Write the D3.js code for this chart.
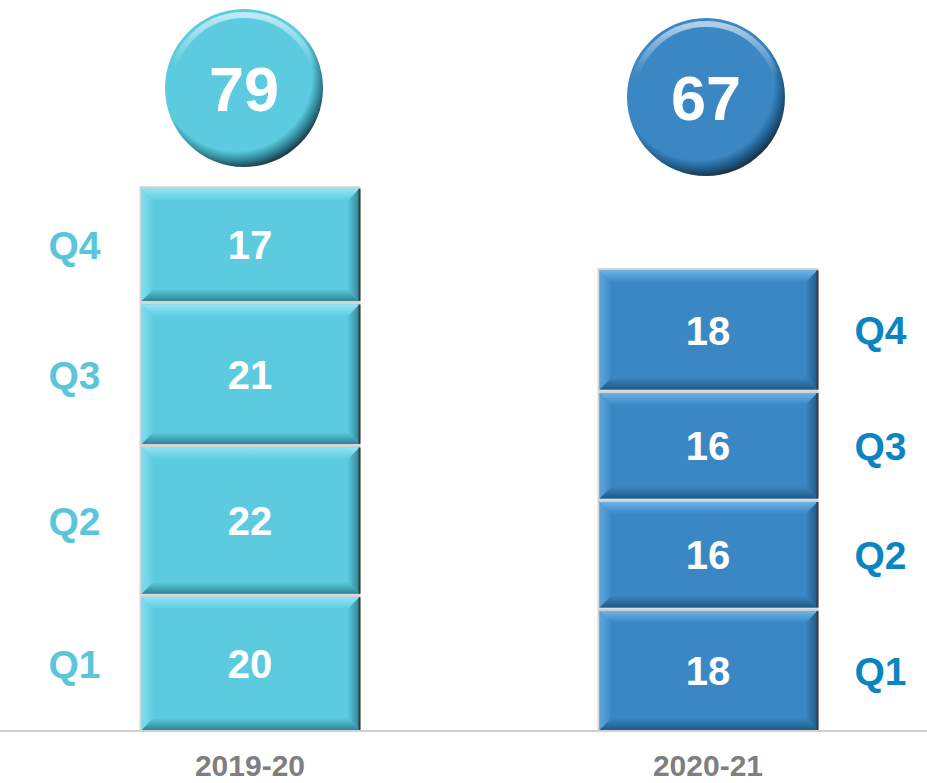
<!DOCTYPE html>
<html>
<head>
<meta charset="utf-8">
<script src="https://cdn.jsdelivr.net/npm/d3@7"></script>
<style>
  body { margin: 0; background: #fff; }
  svg { display: block; font-family: "Liberation Sans", Arial, sans-serif; }
</style>
</head>
<body>
<svg id="chart" width="927" height="783"></svg>
<script>
// data
var years = ['2019-20', '2020-21']
var quarters = ['Q1', 'Q2', 'Q3', 'Q4']
var values2019 = [20, 22, 21, 17]
var values2020 = [18, 16, 16, 18]
var totals = [79, 67]

var colors = { base: ['#5ccbe0', '#3a87c4'], light: ['#8fe6f6', '#6cb4ea'], dark: ['#2f8596', '#1f5a88'], label: ['#5bc5da', '#0b84c2'] }

var svg = d3.select('#chart')
var defs = svg.append('defs')

var x = d3.scalePoint().domain(years).range([250, 708])
var y = d3.scaleLinear().domain([0, 79]).range([731, 193])
var barW = 221

// stack each year
var series = [values2019, values2020].map(function(vals, i){
    var cum = 0
    return vals.map(function(v, q){
        var s = { year: years[i], yi: i, q: quarters[q], v: v, y0: cum, y1: cum + v }
        cum += v
        return s
    })
})

// gradients for the bevel edges and the balls
years.forEach(function(yr, i){
    var g = defs.append('linearGradient').attr('id', 'top' + i).attr('x1', 0).attr('y1', 0).attr('x2', 0).attr('y2', 1)
    g.append('stop').attr('offset', 0).attr('stop-color', colors.light[i])
    g.append('stop').attr('offset', 1).attr('stop-color', colors.base[i])
    g = defs.append('linearGradient').attr('id', 'bot' + i).attr('x1', 0).attr('y1', 0).attr('x2', 0).attr('y2', 1)
    g.append('stop').attr('offset', 0).attr('stop-color', colors.base[i])
    g.append('stop').attr('offset', 1).attr('stop-color', colors.dark[i])
    g = defs.append('linearGradient').attr('id', 'rgt' + i).attr('x1', 0).attr('y1', 0).attr('x2', 1).attr('y2', 0)
    g.append('stop').attr('offset', 0).attr('stop-color', colors.base[i])
    g.append('stop').attr('offset', 1).attr('stop-color', colors.dark[i])
    g = defs.append('linearGradient').attr('id', 'lft' + i).attr('x1', 0).attr('y1', 0).attr('x2', 1).attr('y2', 0)
    g.append('stop').attr('offset', 0).attr('stop-color', colors.light[i]).attr('stop-opacity', 0.6)
    g.append('stop').attr('offset', 1).attr('stop-color', colors.base[i])

    // shading sits off-centre so the dark rim is mostly bottom-right
    var rg = defs.append('radialGradient').attr('id', 'ball' + i)
        .attr('cx', 0.45).attr('cy', 0.42).attr('r', 0.6)
    rg.append('stop').attr('offset', 0).attr('stop-color', colors.base[i])
    rg.append('stop').attr('offset', 0.8).attr('stop-color', colors.base[i])
    rg.append('stop').attr('offset', 0.9).attr('stop-color', colors.dark[i])
    rg.append('stop').attr('offset', 1).attr('stop-color', '#1a2a33')

    var hl = defs.append('linearGradient').attr('id', 'hl' + i).attr('x1', 0).attr('y1', 0).attr('x2', 0).attr('y2', 1)
    hl.append('stop').attr('offset', 0).attr('stop-color', '#ffffff').attr('stop-opacity', 0.6)
    hl.append('stop').attr('offset', 0.35).attr('stop-color', '#ffffff').attr('stop-opacity', 0)
})

// baseline
svg.append('line')
    .attr('x1', 0).attr('x2', 927)
    .attr('y1', y(0)).attr('y2', y(0))
    .attr('stroke', '#bfbfbf').attr('stroke-width', 1.5)

var bev = 12
series.forEach(function(segs, i){
    var cx = x(years[i])
    var x0 = cx - barW / 2, x1 = cx + barW / 2
    var g = svg.append('g')
    var seg = g.selectAll('g.seg').data(segs).enter().append('g').attr('class', 'seg')

    seg.each(function(d){
        var s = d3.select(this)
        var top = y(d.y1), bot = y(d.y0)
        var t = top + 2.5, b = bot - 1
        s.append('rect').attr('x', x0).attr('y', top).attr('width', barW).attr('height', bot - top)
            .attr('fill', '#d4d4d4')
        s.append('rect').attr('x', x0 + 2).attr('y', t).attr('width', barW - 3).attr('height', b - t)
            .attr('fill', colors.base[i])
        var L = x0 + 2, R = x1 - 1
        s.append('polygon').attr('points', [[L, t], [R, t], [R - bev, t + bev], [L + bev, t + bev]].join(' '))
            .attr('fill', 'url(#top' + i + ')')
        s.append('polygon').attr('points', [[L, b], [R, b], [R - bev, b - bev], [L + bev, b - bev]].join(' '))
            .attr('fill', 'url(#bot' + i + ')')
        s.append('polygon').attr('points', [[R, t], [R, b], [R - bev, b - bev], [R - bev, t + bev]].join(' '))
            .attr('fill', 'url(#rgt' + i + ')')
        s.append('polygon').attr('points', [[L, t], [L, b], [L + bev, b - bev], [L + bev, t + bev]].join(' '))
            .attr('fill', 'url(#lft' + i + ')')
        s.append('rect').attr('x', x1 - 2).attr('y', t).attr('width', 2).attr('height', b - t).attr('fill', '#3a3a3a')

        s.append('text')
            .attr('x', cx).attr('y', (top + bot) / 2 + 1)
            .attr('dy', '0.36em')
            .attr('text-anchor', 'middle')
            .attr('fill', '#fff').attr('font-weight', 'bold').attr('font-size', 40)
            .text(d.v)

        // quarter label beside the bar
        s.append('text')
            .attr('x', i == 0 ? x0 - 65 : x1 + 62).attr('y', (top + bot) / 2 + 1)
            .attr('dy', '0.36em')
            .attr('text-anchor', 'middle')
            .attr('fill', colors.label[i]).attr('font-weight', 'bold').attr('font-size', 39)
            .text(d.q)
    })

    // total ball
    var by = i == 0 ? 88 : 97, bx = i == 0 ? 244 : 706
    svg.append('circle').attr('cx', bx).attr('cy', by).attr('r', 79).attr('fill', 'url(#ball' + i + ')')
    svg.append('circle').attr('cx', bx).attr('cy', by).attr('r', 73)
        .attr('fill', 'none').attr('stroke', 'url(#hl' + i + ')').attr('stroke-width', 6)
    svg.append('text')
        .attr('x', bx).attr('y', by)
        .attr('dy', '0.36em')
        .attr('text-anchor', 'middle')
        .attr('fill', '#fff').attr('font-weight', 'bold').attr('font-size', 63)
        .text(totals[i])

    // year label
    svg.append('text')
        .attr('x', cx).attr('y', 765)
        .attr('dy', '0.36em')
        .attr('text-anchor', 'middle')
        .attr('fill', '#7f7f7f').attr('font-weight', 'bold').attr('font-size', 30)
        .text(years[i])
})
</script>
</body>
</html>
